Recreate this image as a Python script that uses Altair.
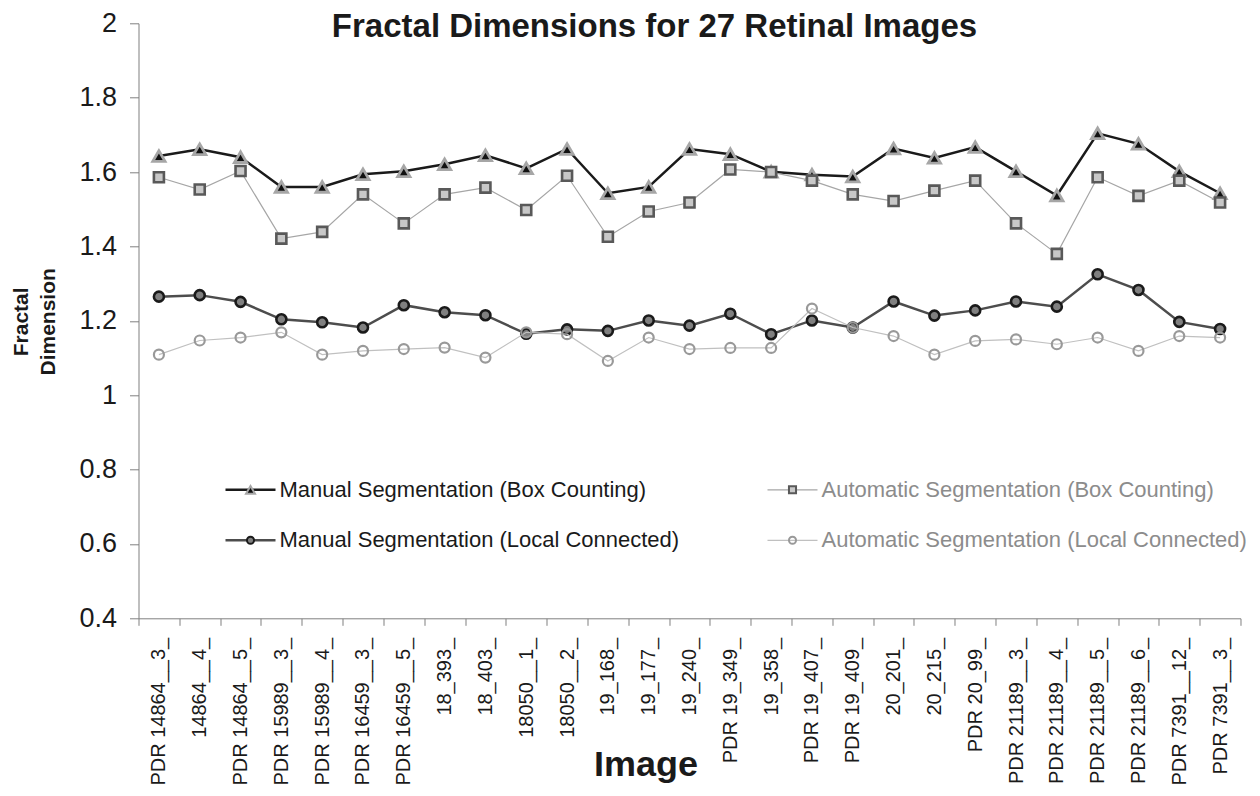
import altair as alt
import pandas as pd

images = [
    "PDR 14864__3_", "14864__4_", "PDR 14864__5_", "PDR 15989__3_", "PDR 15989__4_",
    "PDR 16459__3_", "PDR 16459__5_", "18_393_", "18_403_", "18050__1_", "18050__2_",
    "19_168_", "19_177_", "19_240_", "PDR 19_349_", "19_358_", "PDR 19_407_",
    "PDR 19_409_", "20_201_", "20_215_", "PDR 20_99_", "PDR 21189__3_",
    "PDR 21189__4_", "PDR 21189__5_", "PDR 21189__6_", "PDR 7391__12_", "PDR 7391__3_",
]
manual_bc = [1.643, 1.661, 1.640, 1.560, 1.560, 1.594, 1.602, 1.621, 1.645, 1.610,
             1.662, 1.543, 1.560, 1.662, 1.648, 1.601, 1.593, 1.588, 1.663, 1.638,
             1.667, 1.602, 1.537, 1.704, 1.676, 1.602, 1.543]
auto_bc = [1.586, 1.553, 1.603, 1.421, 1.439, 1.540, 1.462, 1.540, 1.558, 1.498,
           1.590, 1.426, 1.494, 1.518, 1.607, 1.600, 1.577, 1.540, 1.522, 1.550,
           1.577, 1.462, 1.380, 1.586, 1.536, 1.577, 1.518]
manual_lc = [1.265, 1.269, 1.251, 1.204, 1.196, 1.182, 1.242, 1.223, 1.215, 1.165,
             1.177, 1.173, 1.201, 1.187, 1.219, 1.164, 1.201, 1.182, 1.252, 1.214,
             1.228, 1.252, 1.238, 1.325, 1.283, 1.197, 1.178]
auto_lc = [1.109, 1.147, 1.155, 1.169, 1.109, 1.119, 1.124, 1.128, 1.101, 1.169,
           1.164, 1.092, 1.155, 1.124, 1.127, 1.127, 1.233, 1.182, 1.159, 1.109,
           1.146, 1.150, 1.137, 1.155, 1.119, 1.159, 1.155]

series_keys = ["mbc", "abc", "mlc", "alc"]
series_labels = [
    "Manual Segmentation (Box Counting)",
    "Automatic Segmentation (Box Counting)",
    "Manual Segmentation (Local Connected)",
    "Automatic Segmentation (Local Connected)",
]
y_ticks = [0.4, 0.6, 0.8, 1.0, 1.2, 1.4, 1.6, 1.8, 2.0]
chart_title = ["Fractal Dimensions for 27 Retinal Images"]

series_values = {"mbc": manual_bc, "abc": auto_bc, "mlc": manual_lc, "alc": auto_lc}
rows = []
for k in series_keys:
    for img, v in zip(images, series_values[k]):
        rows.append({"image": img, "series": k, "value": v})
df = pd.DataFrame(rows)

FONT = "Liberation Sans"
TXT = "#1a1a1a"
AX = "#808080"
PW, PH = 1102, 595

styles = {
    "mbc": dict(line="#1a1a1a", lw=2.5, shape="triangle-up", fill="#111111", stroke="#a6a6a6",
                sw=2.8, size=150, lsize=80, text=TXT),
    "abc": dict(line="#a6a6a6", lw=1.2, shape="square", fill="#c8c8c8", stroke="#595959",
                sw=2.6, size=100, lsize=50, text="#8c8c8c"),
    "mlc": dict(line="#4d4d4d", lw=2.5, shape="circle", fill="#808080", stroke="#1a1a1a",
                sw=2.6, size=100, lsize=50, text=TXT),
    "alc": dict(line="#c0c0c0", lw=1.2, shape="circle", fill=None, stroke="#999999",
                sw=2.2, size=100, lsize=50, text="#8c8c8c"),
}

x_enc = alt.X(
    "image:N",
    scale=alt.Scale(type="band", domain=images, paddingInner=0, paddingOuter=0),
    axis=alt.Axis(
        title="Image", titleFont=FONT, titleFontSize=36, titleFontWeight="bold",
        titleColor=TXT, titleX=507, titleY=157, titleAlign="center",
        titleBaseline="alphabetic",
        labelAngle=270, labelAlign="right", labelBaseline="middle",
        labelFont=FONT, labelFontSize=20, labelColor=TXT, labelPadding=12,
        labelOverlap=False, labelLimit=400,
        tickBand="extent", tickSize=7, tickColor=AX, domainColor=AX, grid=False,
    ),
)
y_enc = alt.Y(
    "value:Q",
    scale=alt.Scale(domain=[0.4, 2.0], nice=False, zero=False),
    axis=alt.Axis(
        values=y_ticks, format="~g",
        title=["Fractal", "Dimension"], titleFont=FONT, titleFontSize=21,
        titleFontWeight="bold", titleColor=TXT, titleAngle=270, titleX=-117,
        titleY=298, titleAlign="center", titleBaseline="middle", titleLineHeight=27,
        labelFont=FONT, labelFontSize=27, labelColor=TXT, labelPadding=13,
        tickSize=9, tickColor=AX, domainColor=AX, grid=False,
    ),
)

base = alt.Chart(df).encode(x=x_enc, y=y_enc)


def marker(st, size, sw):
    kw = dict(shape=st["shape"], size=size, strokeWidth=sw, stroke=st["stroke"], opacity=1)
    if st["fill"] is None:
        kw["filled"] = False
    else:
        kw["filled"] = True
        kw["fill"] = st["fill"]
        kw["fillOpacity"] = 1
    return kw


main_layers = []
for k in series_keys:
    st = styles[k]
    sub = base.transform_filter(alt.datum.series == k)
    main_layers.append(sub.mark_line(color=st["line"], strokeWidth=st["lw"]))
    main_layers.append(sub.mark_point(**marker(st, st["size"], st["sw"])))

# legend table built from the series names (pixel positions inside the plot)
leg_rows = []
for i, (k, lab) in enumerate(zip(series_keys, series_labels)):
    col, row = i % 2, i // 2
    x0 = [87, 629][col]
    leg_rows.append({"series": k, "label": lab, "x0": x0, "x1": x0 + 50,
                     "xm": x0 + 25, "xt": x0 + 54, "ly": [466.5, 517][row]})
leg_df = pd.DataFrame(leg_rows)

leg_base = alt.Chart(leg_df)
leg_layers = []
for k in series_keys:
    st = styles[k]
    sub = leg_base.transform_filter(alt.datum.series == k)
    leg_layers.append(sub.mark_rule(color=st["line"], strokeWidth=st["lw"]).encode(
        x=alt.X("x0:Q", scale=None, axis=None), x2="x1:Q",
        y=alt.Y("ly:Q", scale=None, axis=None)))
    leg_layers.append(sub.mark_point(**marker(st, st["lsize"], 2.0)).encode(
        x=alt.X("xm:Q", scale=None, axis=None), y=alt.Y("ly:Q", scale=None, axis=None)))
    leg_layers.append(sub.mark_text(align="left", baseline="middle", font=FONT,
                                    fontSize=22, color=st["text"]).encode(
        x=alt.X("xt:Q", scale=None, axis=None), y=alt.Y("ly:Q", scale=None, axis=None),
        text="label:N"))

# chart title as a text mark placed at the top of the plot area
title_df = pd.DataFrame({"t": chart_title, "tx": [516], "ty": [14]})
leg_layers.append(alt.Chart(title_df).mark_text(
    align="center", baseline="alphabetic", font=FONT, fontSize=33, fontWeight="bold",
    color=TXT).encode(
    x=alt.X("tx:Q", scale=None, axis=None), y=alt.Y("ty:Q", scale=None, axis=None),
    text="t:N"))

main = alt.layer(*main_layers)
legend = alt.layer(*leg_layers)

chart = (
    alt.layer(main, legend)
    .resolve_scale(x="independent", y="independent")
    .properties(
        width=PW, height=PH,
        autosize=alt.AutoSizeParams(type="none"),
        padding={"left": 130.5, "top": 15.3, "right": 8, "bottom": 175},
    )
    .configure_view(stroke=None)
)

chart.save("out.html", embed_options={"renderer": "svg", "actions": False})
